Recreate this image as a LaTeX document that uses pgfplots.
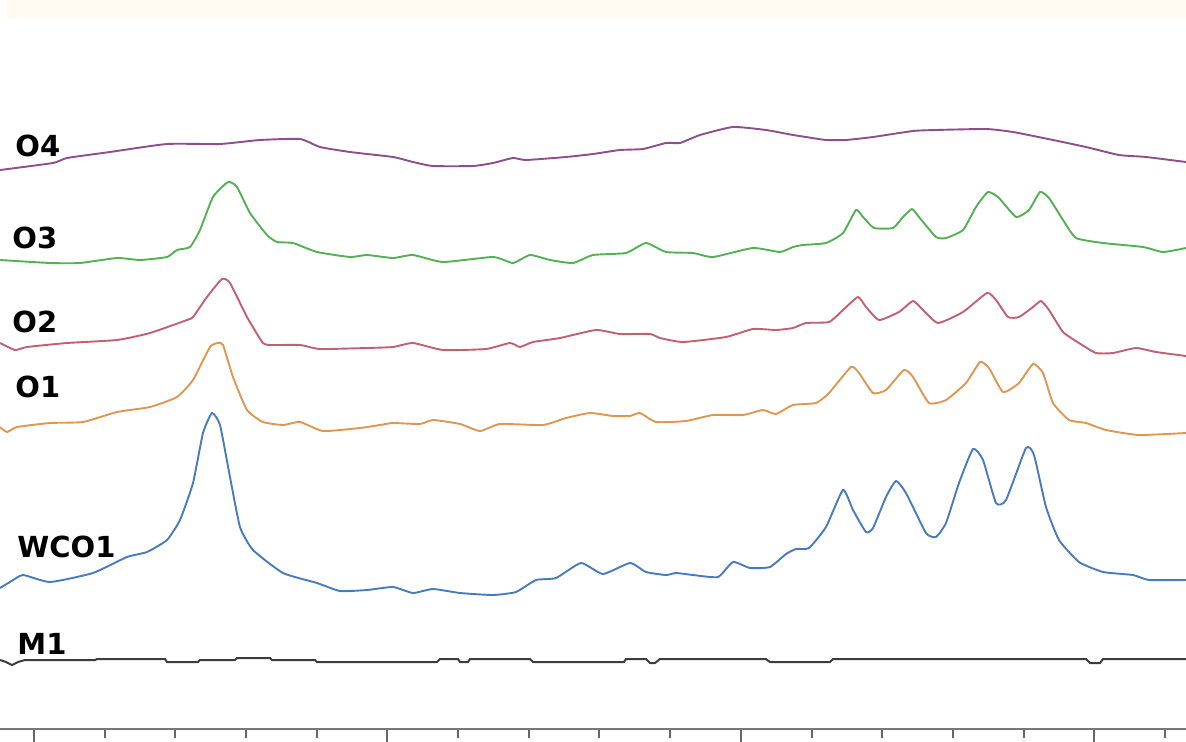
\documentclass[border=0pt]{standalone}
\usepackage{pgfplots}
\pgfplotsset{compat=1.18}
\usepackage{fontspec}
\newfontfamily\labfont{DejaVu Sans}
\definecolor{cO4}{RGB}{140,78,140}
\definecolor{cO3}{RGB}{84,176,84}
\definecolor{cO2}{RGB}{192,96,112}
\definecolor{cO1}{RGB}{222,150,80}
\definecolor{cW}{RGB}{72,122,190}
\definecolor{cM}{RGB}{60,60,60}
\definecolor{band}{RGB}{255,249,242}
\definecolor{axgrey}{RGB}{120,120,120}
\begin{document}
\begin{tikzpicture}
\begin{axis}[
  scale only axis,
  width=593bp, height=364.5bp,
  xmin=0, xmax=1186, ymin=0, ymax=729,
  y dir=reverse,
  axis x line*=bottom,
  axis y line=none,
  x axis line style={draw=axgrey, line width=1bp, -},
  xtick={33.8,387.3,740.8,1094.3},
  minor xtick={104.5,175.2,245.9,316.6,458,528.7,599.4,670.1,811.5,882.2,952.9,1023.6,1165},
  xticklabels={},
  tick align=outside,
  major tick length=7.5bp,
  minor tick length=4.5bp,
  every tick/.style={draw=axgrey!85!black, line width=1bp},
  every minor tick/.style={draw=axgrey!85!black, line width=1bp},
  clip=false,
  every axis plot/.append style={smooth, tension=0.3, line width=0.95bp},
]
\fill[band] (axis cs:7,0) rectangle (axis cs:1186,18);
% O4
\addplot[cO4] coordinates {(0,170)(53,163)(67,158)(110,152)(167,144)(220,144)(260,140)(300,139)(320,147)(350,152)(393,157)(413,162)(433,166)(473,166)(493,163)(513,158)(526,160)(566,157)(593,154)(620,150)(643,149)(666,143)(680,143)(700,135)(733,127)(766,130)(793,135)(806,137)(826,140)(846,140)(873,137)(913,131)(936,130)(986,129)(1013,132)(1053,140)(1086,147)(1119,155)(1146,157)(1186,162)};
% O3
\addplot[cO3] coordinates {(0,260)(50,263)(80,263)(117,258)(140,260)(167,257)(177,250)(190,247)(200,230)(213,197)(228,182)(237,187)(250,213)(267,235)(277,242)(293,243)(317,252)(350,257)(367,255)(393,258)(413,255)(443,262)(493,257)(513,263)(530,255)(550,260)(573,263)(593,255)(626,253)(646,243)(666,252)(693,253)(713,257)(753,248)(780,252)(793,247)(803,245)(826,243)(843,233)(856,210)(863,217)(874,228)(893,228)(903,217)(912,209)(919,217)(936,237)(946,238)(963,230)(976,207)(988,192)(999,198)(1016,217)(1029,210)(1040,192)(1049,198)(1063,220)(1076,238)(1103,243)(1143,247)(1163,252)(1186,248)};
% O2
\addplot[cO2] coordinates {(0,343)(15,350)(27,347)(67,343)(117,340)(150,333)(187,320)(193,317)(207,297)(222,279)(230,283)(247,317)(263,343)(273,345)(300,345)(320,349)(367,348)(393,347)(413,343)(443,350)(486,349)(510,343)(520,347)(533,342)(560,338)(596,330)(620,334)(650,334)(660,338)(683,342)(726,337)(753,329)(776,330)(793,328)(806,323)(829,322)(843,310)(858,297)(866,307)(879,320)(899,312)(913,301)(923,310)(938,323)(963,312)(987,293)(996,300)(1008,317)(1019,317)(1033,307)(1041,301)(1049,310)(1063,332)(1079,343)(1096,353)(1113,353)(1136,348)(1156,352)(1186,356)};
% O1
\addplot[cO1] coordinates {(0,427)(7,432)(17,427)(50,423)(83,422)(117,412)(150,407)(177,397)(193,380)(210,347)(218,343)(223,345)(233,377)(247,410)(263,422)(283,425)(300,422)(323,431)(360,428)(380,425)(393,423)(420,424)(433,420)(460,424)(480,431)(500,424)(543,425)(566,418)(590,413)(613,416)(630,416)(640,413)(656,422)(686,421)(713,415)(743,415)(763,410)(776,414)(793,405)(816,403)(829,393)(851,367)(859,373)(873,393)(886,390)(904,370)(913,377)(929,403)(946,400)(966,383)(980,362)(989,368)(1003,392)(1019,383)(1033,364)(1043,373)(1053,403)(1069,420)(1086,423)(1106,430)(1139,435)(1186,433)};
% WCO1
\addplot[cW] coordinates {(0,588)(10,582)(23,575)(50,582)(93,573)(127,557)(147,552)(167,540)(180,520)(193,483)(203,433)(212,413)(220,425)(230,477)(240,527)(253,550)(283,573)(317,583)(340,591)(367,590)(393,587)(413,593)(433,589)(460,593)(493,595)(516,592)(536,580)(556,578)(581,563)(603,574)(630,563)(646,572)(666,575)(676,573)(693,575)(718,577)(733,562)(750,568)(770,567)(786,554)(796,549)(809,548)(826,527)(843,490)(853,510)(866,532)(873,528)(886,497)(896,481)(906,493)(926,533)(936,537)(946,523)(959,483)(973,449)(983,460)(996,503)(1006,500)(1026,448)(1034,455)(1046,507)(1059,540)(1079,562)(1103,572)(1133,575)(1149,580)(1186,580)};
% M1
\addplot[cM, sharp plot, line width=1bp] coordinates {(0,660)(6,662)(12,665)(18,662)(25,660)(95,660)(97,659)(165,659)(167,662)(198,662)(200,660)(235,660)(237,658)(270,658)(272,660)(315,660)(317,662)(437,662)(440,659)(458,659)(460,662)(468,662)(470,659)(530,659)(533,662)(624,662)(626,659)(646,659)(650,663)(655,663)(660,659)(766,659)(770,662)(830,662)(833,659)(1086,659)(1090,663)(1100,663)(1103,659)(1186,659)};
\begin{scope}[every node/.style={anchor=west, inner sep=0pt, font=\labfont\bfseries\fontsize{14.5bp}{17bp}\selectfont}]
\node at (axis cs:15,146) {O4};
\node at (axis cs:12,238) {O3};
\node at (axis cs:12,322) {O2};
\node at (axis cs:15,387) {O1};
\node at (axis cs:17,547) {WCO1};
\node at (axis cs:17,644) {M1};
\end{scope}
\coordinate (TL) at (axis cs:0,0);
\coordinate (BR) at (axis cs:1186,742);
\end{axis}
\pgfresetboundingbox
\path[use as bounding box] (TL) rectangle (BR);
\end{tikzpicture}
\end{document}
